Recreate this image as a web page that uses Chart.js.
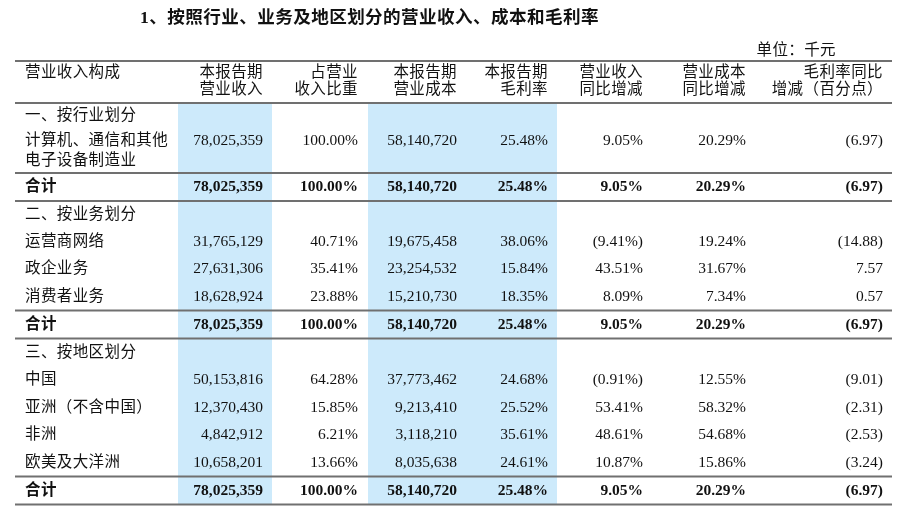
<!DOCTYPE html>
<html>
<head>
<meta charset="utf-8">
<script src="https://cdn.jsdelivr.net/npm/chart.js@4.4.1/dist/chart.umd.min.js"></script>
<style>
  html, body { margin: 0; padding: 0; background: #fff; }
  #wrap { width: 900px; height: 513px; }
</style>
</head>
<body>
<div id="wrap"><canvas id="chart"></canvas></div>
<script>
// table data
const tableTitle = "1、按照行业、业务及地区划分的营业收入、成本和毛利率";
const unitLabel = "单位：千元";
const headers = [
  ["营业收入构成", ""],
  ["本报告期", "营业收入"],
  ["占营业", "收入比重"],
  ["本报告期", "营业成本"],
  ["本报告期", "毛利率"],
  ["营业收入", "同比增减"],
  ["营业成本", "同比增减"],
  ["毛利率同比", "增减（百分点）"],
];
const sectionTitles = ["一、按行业划分", "二、按业务划分", "三、按地区划分"];
const sectionSizes = [1, 3, 4];
const totalLabel = "合计";

const rowLabels = [
  ["计算机、通信和其他", "电子设备制造业"],
  "运营商网络", "政企业务", "消费者业务",
  "中国", "亚洲（不含中国）", "非洲", "欧美及大洋洲",
];
const revenue = [78025359, 31765129, 27631306, 18628924, 50153816, 12370430, 4842912, 10658201];
const revenueShare = [100.0, 40.71, 35.41, 23.88, 64.28, 15.85, 6.21, 13.66];
const cost = [58140720, 19675458, 23254532, 15210730, 37773462, 9213410, 3118210, 8035638];
const grossMargin = [25.48, 38.06, 15.84, 18.35, 24.68, 25.52, 35.61, 24.61];
const revenueYoY = [9.05, -9.41, 43.51, 8.09, -0.91, 53.41, 48.61, 10.87];
const costYoY = [20.29, 19.24, 31.67, 7.34, 12.55, 58.32, 54.68, 15.86];
const marginYoY = [-6.97, -14.88, 7.57, 0.57, -9.01, -2.31, -2.53, -3.24];
const totals = [78025359, 100.0, 58140720, 25.48, 9.05, 20.29, -6.97];

// layout (scale units)
const TABLE_LEFT = 15, TABLE_RIGHT = 892, LABEL_X = 25;
const COL_RIGHT = [null, 263, 358, 457, 548, 643, 746, 883];
const HIGHLIGHT_COLS = [[178, 272], [368, 557]];
const TOP_RULE = 61, HEADER_BOTTOM = 103;
const HEAD_LINE_Y = [73, 90];
const SECTION_HEAD_H = [25, 27, 28];
const ITEM_H = 27.5, ITEM_LINE_GAP = 20, TOTAL_H = 28;

const SERIF = '"Liberation Serif", "Noto Sans CJK SC", serif';
const TEXT_COLOR = "#111111";
const RULE_COLOR = "#707070";
const BLUE = "#cdeafb";
const CJK_SPACING = "0.4px";

const fmtInt = (v) => v.toLocaleString("en-US");
const fmtPct = (v) => (v < 0 ? "(" + Math.abs(v).toFixed(2) + "%)" : v.toFixed(2) + "%");
const fmtPt = (v) => (v < 0 ? "(" + Math.abs(v).toFixed(2) + ")" : v.toFixed(2));
const formatters = [fmtInt, fmtPct, fmtInt, fmtPct, fmtPct, fmtPct, fmtPt];

const rowValues = (i) => [revenue[i], revenueShare[i], cost[i], grossMargin[i], revenueYoY[i], costYoY[i], marginYoY[i]];

const tablePlugin = {
  id: "tableDraw",
  afterDraw(chart) {
    const ctx = chart.ctx;
    const xs = chart.scales.x, ys = chart.scales.y;
    const px = (v) => xs.getPixelForValue(v);
    const py = (v) => ys.getPixelForValue(v);

    // rows: section heading, items, total
    const rows = [];
    const rules = [TOP_RULE, HEADER_BOTTOM];
    let y = HEADER_BOTTOM, idx = 0;
    sectionTitles.forEach((title, s) => {
      rows.push({ type: "section", label: title, top: y, h: SECTION_HEAD_H[s] });
      y += SECTION_HEAD_H[s];
      for (let k = 0; k < sectionSizes[s]; k++) {
        const lab = rowLabels[idx];
        const h = Array.isArray(lab) ? ITEM_H + 17.5 : ITEM_H;
        rows.push({ type: "item", label: lab, top: y, h, values: rowValues(idx) });
        y += h;
        idx++;
      }
      rules.push(y);
      rows.push({ type: "total", label: totalLabel, top: y, h: TOTAL_H, values: totals });
      y += TOTAL_H;
      rules.push(y);
    });

    ctx.save();
    ctx.fillStyle = BLUE;
    HIGHLIGHT_COLS.forEach(([a, b]) => {
      ctx.fillRect(px(a), py(HEADER_BOTTOM), px(b) - px(a), py(y) - py(HEADER_BOTTOM));
    });

    ctx.strokeStyle = RULE_COLOR;
    ctx.lineWidth = 2;
    rules.forEach((r) => {
      ctx.beginPath();
      ctx.moveTo(px(TABLE_LEFT), py(r));
      ctx.lineTo(px(TABLE_RIGHT), py(r));
      ctx.stroke();
    });

    ctx.fillStyle = TEXT_COLOR;
    ctx.textBaseline = "middle";

    const cjkText = (t, x, yy, align) => {
      ctx.letterSpacing = CJK_SPACING;
      ctx.textAlign = align;
      ctx.fillText(t, px(x), py(yy));
      ctx.letterSpacing = "0px";
    };

    // title + unit
    ctx.font = "bold 17.6px " + SERIF;
    cjkText(tableTitle, 140, 18, "left");
    ctx.font = "15.5px " + SERIF;
    cjkText(unitLabel, 836, 51, "right");

    // header
    headers.forEach((lines, c) => {
      const x = c === 0 ? LABEL_X : COL_RIGHT[c];
      lines.forEach((t, l) => { if (t) cjkText(t, x, HEAD_LINE_Y[l], c === 0 ? "left" : "right"); });
    });

    // body
    rows.forEach((row) => {
      const mid = row.top + row.h / 2;
      ctx.font = (row.type === "total" ? "bold " : "") + "15.5px " + SERIF;
      if (Array.isArray(row.label)) {
        cjkText(row.label[0], LABEL_X, mid - ITEM_LINE_GAP / 2, "left");
        cjkText(row.label[1], LABEL_X, mid + ITEM_LINE_GAP / 2, "left");
      } else {
        cjkText(row.label, LABEL_X, mid, "left");
      }
      if (row.values) {
        ctx.textAlign = "right";
        const vy = Array.isArray(row.label) ? mid - ITEM_LINE_GAP / 2 : mid;
        row.values.forEach((v, c) => {
          ctx.fillText(formatters[c](v), px(COL_RIGHT[c + 1]), py(vy));
        });
      }
    });
    ctx.restore();
  },
};

new Chart(document.getElementById("chart").getContext("2d"), {
  type: "scatter",
  data: { datasets: [] },
  options: {
    responsive: true,
    maintainAspectRatio: false,
    animation: false,
    layout: { padding: 0 },
    plugins: { legend: { display: false }, tooltip: { enabled: false } },
    scales: {
      x: { type: "linear", display: false, min: 0, max: 900 },
      y: { type: "linear", display: false, min: 0, max: 513, reverse: true },
    },
  },
  plugins: [tablePlugin],
});
</script>
</body>
</html>
